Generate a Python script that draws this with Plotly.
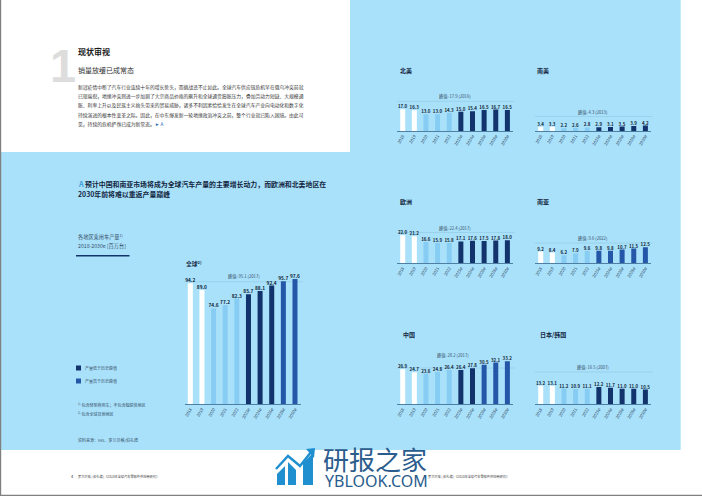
import plotly.graph_objects as go

W, H = 702, 496
FONT = "Noto Sans CJK SC"

years = ["2018", "2019", "2020", "2021", "2022", "2023e", "2024e", "2026e", "2028e", "2030e"]

global_values = [94.2, 89.0, 74.6, 77.2, 82.3, 85.7, 88.1, 92.4, 95.7, 97.6]
north_america = [17.0, 16.3, 13.0, 13.0, 14.3, 15.0, 15.4, 16.5, 16.7, 16.5]
south_america = [3.4, 3.3, 2.2, 2.6, 2.8, 2.9, 3.1, 3.5, 3.9, 4.2]
europe = [22.0, 21.2, 16.6, 15.9, 15.8, 17.1, 17.6, 17.5, 17.8, 18.0]
south_asia = [9.2, 8.4, 6.2, 7.9, 9.6, 9.8, 9.8, 10.7, 11.5, 12.5]
china = [26.9, 24.7, 23.6, 24.8, 26.4, 26.4, 27.8, 30.5, 32.1, 33.2]
japan_korea = [13.2, 13.1, 11.2, 10.9, 11.1, 12.2, 11.7, 11.0, 11.0, 10.5]

peak_labels = {
    "global": "峰值: 95.1 (2017)", "na": "峰值: 17.9 (2016)", "sa": "峰值: 4.3 (2013)",
    "eu": "峰值: 22.4 (2017)", "sas": "峰值: 9.6 (2022)", "cn": "峰值: 28.2 (2017)",
    "jk": "峰值: 16.5 (2007)",
}
peak_values = {"global": 95.1, "na": 17.9, "sa": 4.3, "eu": 22.4, "sas": 9.6, "cn": 28.2, "jk": 16.5}

body_lines = [
    "新冠疫情中断了汽车行业连续十年的增长势头，而挑战还不止如此。全球汽车供应链危机早在俄乌冲突前就",
    "已现端倪，地缘冲突则进一步加剧了大宗商品价格的飙升和全球通货膨胀压力，叠加劳动力短缺、大规模通",
    "胀、利率上升以及民族主义抬头带来的贸易威胁，诸多不利因素恰恰发生在全球汽车产业向电动化和数字化",
    "持续演进的根本性变革之际。因此，在中东爆发新一轮地缘政治冲突之前，整个行业就已陷入困境。由此可",
    "见，持续的危机俨然已成为新常态。",
]

BLUE = "#AAE1FA"
WHITE = "#FFFFFF"
LIGHT = "#87CDF3"
DARK = "#12336B"
MID = "#2557A8"
TXT = "#2B3A48"
LINE = "#8FC8E4"

def px(x): return x / W
def py(y): return 1 - y / H

def colors(vals, peak):
    out = [WHITE, WHITE, LIGHT, LIGHT, LIGHT]
    for v in vals[5:]:
        out.append(MID if v >= peak else DARK)
    return out

panels = [
    dict(key="global", vals=global_values, x0=184.5, base=404.3, h=130, scale=1.285, title=None, fs=4.8, line_y=281.7, lab_y=276, lab_x=244),
    dict(key="na", vals=north_america, x0=396.9, base=131, h=50, scale=1.28, title=("北美", 398, 70), fs=4.4, line_y=101.3, lab_y=96, lab_x=455),
    dict(key="sa", vals=south_america, x0=534.9, base=131, h=50, scale=1.28, title=("南美", 535, 70), fs=4.4, line_y=116.5, lab_y=112, lab_x=592.7),
    dict(key="eu", vals=europe, x0=396.9, base=263.3, h=50, scale=1.28, title=("欧洲", 398, 201.7), fs=4.4, line_y=232.5, lab_y=228, lab_x=455),
    dict(key="sas", vals=south_asia, x0=534.9, base=263.3, h=50, scale=1.28, title=("南亚", 535, 201.7), fs=4.4, line_y=243, lab_y=238.5, lab_x=592.7),
    dict(key="cn", vals=china, x0=396.9, base=404.3, h=60, scale=1.3, title=("中国", 401, 334), fs=4.4, line_y=368, lab_y=355, lab_x=452.7),
    dict(key="jk", vals=japan_korea, x0=534.9, base=404.3, h=50, scale=1.41, title=("日本/韩国", 538, 334), fs=4.4, line_y=372, lab_y=367, lab_x=592.7),
]

STEP = 11.63
fig = go.Figure()
layout = {}
annotations = []
shapes = []

def note(text, x, y, size, color=TXT, bold=False, anchor="left", family=FONT):
    annotations.append(dict(
        text=f"<b>{text}</b>" if bold else text, x=px(x), y=py(y), xref="paper", yref="paper",
        xanchor=anchor, yanchor="middle", showarrow=False,
        font=dict(size=size, color=color, family=family)))

def rect(x0, y0, x1, y1, color, layer="below"):
    shapes.append(dict(type="rect", xref="paper", yref="paper", x0=px(x0), x1=px(x1),
                       y0=py(y1), y1=py(y0), fillcolor=color, line=dict(width=0), layer=layer))

# page background blocks
rect(1, 0, 680.7, 450, BLUE)
rect(1, 0, 350, 152, WHITE)
rect(0, 0, 1.2, 496, "#808080")
rect(0, 494.8, 702, 496, "#808080")

for i, p in enumerate(panels, start=1):
    xa, ya = f"xaxis{i}", f"yaxis{i}"
    fig.add_trace(go.Bar(
        x=years, y=p["vals"], xaxis=f"x{i}", yaxis=f"y{i}", width=0.43,
        marker=dict(color=colors(p["vals"], peak_values[p["key"]]), line=dict(width=0)),
        text=[f"{v:.1f}" for v in p["vals"]], textposition="outside", cliponaxis=False,
        textangle=0, constraintext="none",
        textfont=dict(size=p["fs"], color="#0E1F36", family=FONT, weight="bold"),
        hoverinfo="skip", showlegend=False))
    x1 = p["x0"] + STEP * 10
    layout[xa] = dict(domain=[px(p["x0"]), px(x1)], anchor=f"y{i}", type="category",
                      categoryorder="array", categoryarray=years, range=[-0.5, 9.5],
                      showgrid=False, showline=True, linecolor="#4F7FA3", linewidth=0.8,
                      ticks="", tickangle=-60, ticklen=0,
                      tickfont=dict(size=4.2, color="#35506A", family=FONT), automargin=False)
    layout[ya] = dict(domain=[py(p["base"]), py(p["base"] - p["h"])], anchor=f"x{i}",
                      range=[0, p["h"] / p["scale"]], visible=False, fixedrange=True)
    # peak line + label
    shapes.append(dict(type="line", xref="paper", yref="paper", x0=px(p["x0"]), x1=px(x1 + 1.5),
                       y0=py(p["line_y"]), y1=py(p["line_y"]), line=dict(color=LINE, width=0.6), layer="below"))
    note(peak_labels[p["key"]], p["lab_x"], p["lab_y"], 4.2, color="#35506A", anchor="center")
    if p["title"]:
        note(p["title"][0], p["title"][1], p["title"][2], 6, color="#12263F", bold=True)

# left text
note("1", 48, 65, 47, color="#DDDDDD", bold=True, family="Liberation Sans")
note("现状审视", 76, 51.5, 8, color="#1A1A1A", bold=True)
note("销量放缓已成常态", 76, 69.5, 7, color="#333333")
for line, y in zip(body_lines, [87.3, 96.2, 105.3, 114.6, 123.7]):
    note(line, 76, y, 4.8, color="#333333")
note("► A", 153, 123.7, 4.6, color="#2B6CB8")
note("A", 76, 184, 7.2, color="#3D9AD6", bold=True)
note("预计中国和南亚市场将成为全球汽车产量的主要增长动力，而欧洲和北美地区在", 83, 184, 6.9, color="#12263F", bold=True)
note("2030年前将难以重返产量巅峰", 76, 193.5, 6.9, color="#12263F", bold=True)
note("各地区乘用车产量<sup>1)</sup>", 76, 237, 5.2, color="#35506A")
note("2018-2030e [百万台]", 76, 246, 5.2, color="#35506A")
rect(76, 255, 129.5, 256.6, DARK)
note("全球<sup>2)</sup>", 184, 263.5, 5.8, color="#12263F", bold=True)

rect(76, 365.5, 81, 370.5, DARK)
note("产量低于历史峰值", 83, 368, 4, color="#35506A")
rect(76, 378.5, 81, 383.5, MID)
note("产量高于历史峰值", 83, 381, 4, color="#35506A")
note("<sup>1)</sup> 包含轻型商用车；不包含独联体地区", 76, 405, 4, color="#35506A")
note("<sup>2)</sup> 包含全球其他地区", 76, 414, 4, color="#35506A")
note("资料来源：IHS、罗兰贝格/伯礼德", 76, 440, 4, color="#35506A")

footer = "罗兰贝格 | 伯礼德 |《2023年全球汽车零部件供应商研究》"
note("4", 69, 476, 4, color="#333333")
note(footer, 76, 476, 3.2, color="#444444")
note(footer, 426, 476, 3.2, color="#444444")

# watermark
LOGO = "#1F8FD0"
def yflip(y): return H - y
def poly(points, close=True):
    return "M" + " L".join(f"{x},{yflip(y)}" for x, y in points) + (" Z" if close else "")
PIX = dict(xsizemode="pixel", ysizemode="pixel", xref="paper", yref="paper", xanchor=0, yanchor=0)
for pts in [[(277, 485), (277, 474), (285, 466), (285, 485)],
            [(288, 485), (288, 462), (296, 470), (296, 485)],
            [(303, 485), (303, 463), (313, 453), (313, 485)]]:
    shapes.append(dict(type="path", path=poly(pts), fillcolor=LOGO, line=dict(width=0), **PIX))
shapes.append(dict(type="path", path=poly([(276, 469), (288, 456), (300, 466), (311, 452)], close=False),
                   line=dict(color=LOGO, width=2.4), **PIX))
shapes.append(dict(type="path", path=poly([(306, 449), (315, 448), (314, 458)]),
                   fillcolor=LOGO, line=dict(width=0), **PIX))
note("研报之家", 321, 458, 26, color="#2A5C8D")
note("YBLOOK.COM", 323, 480.5, 16, color="#2A5C8D", family="Noto Sans")

fig.update_layout(
    width=W, height=H, margin=dict(l=0, r=0, t=0, b=0), autosize=False,
    paper_bgcolor="#FFFFFF", plot_bgcolor="rgba(0,0,0,0)", showlegend=False,
    annotations=annotations, shapes=shapes, font=dict(family=FONT),
    **layout)

fig.write_html("out.html", config={"displayModeBar": False, "responsive": False},
               post_script="document.body.style.margin='0';document.documentElement.style.overflow='hidden';")
